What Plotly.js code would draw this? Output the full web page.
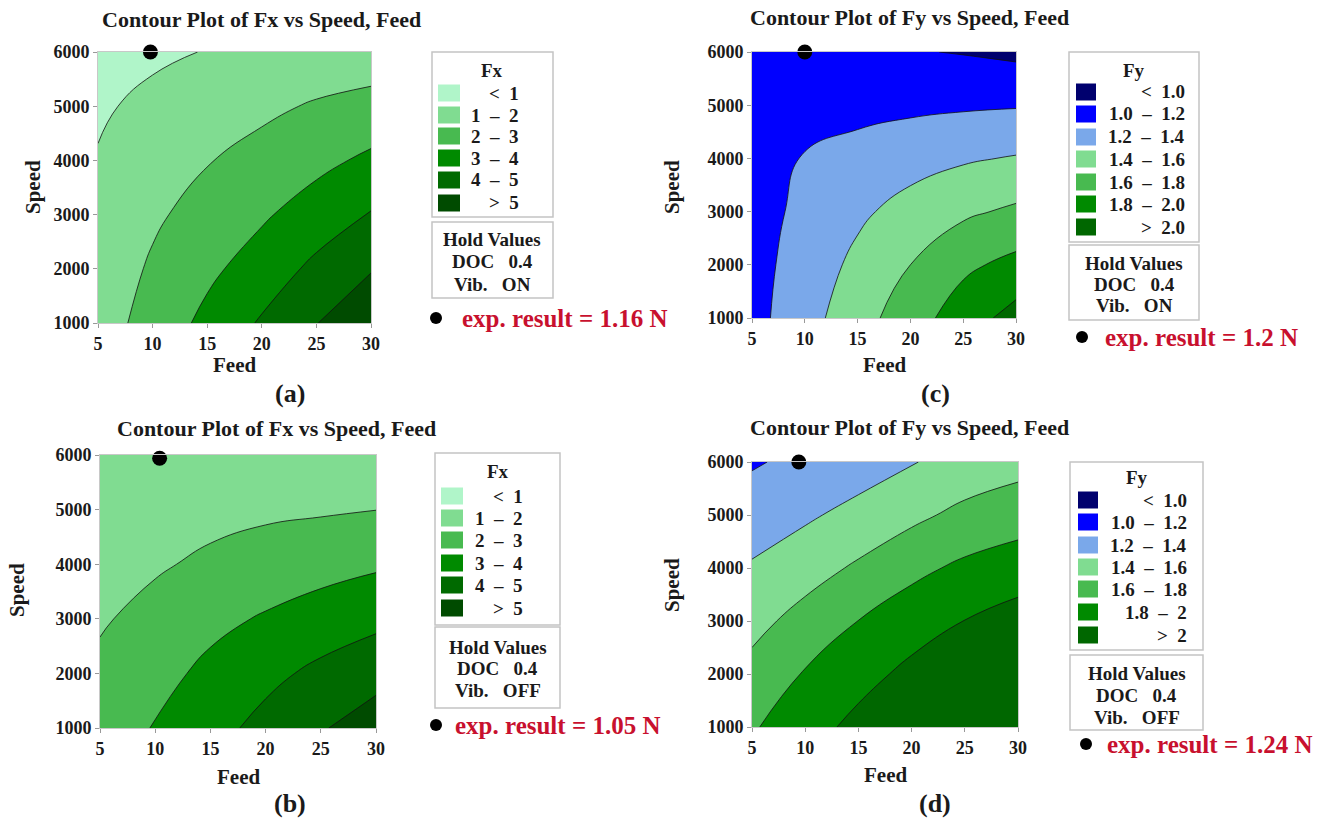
<!DOCTYPE html>
<html><head><meta charset="utf-8">
<script src="https://cdn.plot.ly/plotly-3.0.1.min.js"></script>
<style>html,body{margin:0;padding:0;background:#fff}#chart{width:1322px;height:822px}</style>
</head><body><div id="chart"></div>
<script>
// ---------------- data ----------------
const feed = [5, 10, 15, 20, 25, 30];
const speed = [1000, 2000, 3000, 4000, 5000, 6000];

// (a) Fx, vibration ON  (rows = speed, cols = feed)
const fxOn = [
  [1.53, 2.39, 3.25, 4.11, 4.97, 5.84],
  [1.37, 2.13, 2.79, 3.45, 4.23, 4.93],
  [1.21, 1.84, 2.375, 2.87, 3.46, 4.06],
  [1.05, 1.51, 1.95, 2.34, 2.74, 3.19],
  [0.89, 1.19, 1.49, 1.79, 2.10, 2.32],
  [0.73, 0.86, 1.03, 1.20, 1.33, 1.45]
];
// (c) Fy, vibration ON
const fyOn = [
  [1.133, 1.325, 1.518, 1.71, 1.90, 2.076],
  [1.13, 1.285, 1.447, 1.60, 1.76, 1.855],
  [1.125, 1.245, 1.363, 1.472, 1.565, 1.634],
  [1.115, 1.21, 1.258, 1.324, 1.377, 1.414],
  [1.105, 1.14, 1.151, 1.161, 1.175, 1.186],
  [1.095, 1.07, 1.04, 1.012, 0.99, 0.957]
];
// (b) Fx, vibration OFF
const fxOff = [
  [2.44, 3.06, 3.67, 4.29, 4.91, 5.53],
  [2.18, 2.676, 3.238, 3.747, 4.226, 4.645],
  [1.91, 2.27, 2.739, 3.097, 3.445, 3.757],
  [1.68, 1.90, 2.157, 2.41, 2.64, 2.862],
  [1.45, 1.60, 1.747, 1.84, 1.90, 1.99],
  [1.25, 1.30, 1.40, 1.45, 1.40, 1.30]
];
// (d) Fy, vibration OFF
const fyOff = [
  [1.78, 1.917, 2.056, 2.19, 2.33, 2.45],
  [1.66, 1.815, 1.93, 2.05, 2.165, 2.268],
  [1.54, 1.669, 1.802, 1.908, 2.003, 2.083],
  [1.42, 1.52, 1.628, 1.75, 1.839, 1.898],
  [1.30, 1.37, 1.462, 1.554, 1.652, 1.713],
  [1.18, 1.25, 1.30, 1.39, 1.468, 1.531]
];

const fxLabels = ['<\u20021', '1\u2002\u2013\u20022', '2\u2002\u2013\u20023', '3\u2002\u2013\u20024', '4\u2002\u2013\u20025', '>\u20025'];
const fyLabelsOn = ['<\u20021.0', '1.0\u2002\u2013\u20021.2', '1.2\u2002\u2013\u20021.4', '1.4\u2002\u2013\u20021.6', '1.6\u2002\u2013\u20021.8', '1.8\u2002\u2013\u20022.0', '>\u20022.0'];
const fyLabelsOff = ['<\u20021.0', '1.0\u2002\u2013\u20021.2', '1.2\u2002\u2013\u20021.4', '1.4\u2002\u2013\u20021.6', '1.6\u2002\u2013\u20021.8', '1.8\u2002\u2013\u20022', '>\u20022'];

const expFeed = [9.8, 10, 10.4, 9.4];
const expSpeed = [6000, 6000, 5940, 6000];
const expText = ['exp. result = 1.16 N', 'exp. result = 1.2 N', 'exp. result = 1.05 N', 'exp. result = 1.24 N'];
const holdDoc = ['0.4', '0.4', '0.4', '0.4'];
const holdVib = ['ON', 'ON', 'OFF', 'OFF'];

const feedTicks = [5, 10, 15, 20, 25, 30];
const speedTicks = [1000, 2000, 3000, 4000, 5000, 6000];

// ---------------- styling ----------------
const fxColors = ['#B0F5C9', '#80DC91', '#48BA50', '#008A00', '#006A00', '#004B00'];
const fyColors = ['#00006E', '#0000FF', '#7AA8EA', '#80DC91', '#48BA50', '#008A00', '#006700'];

// band k colour sits exactly at stop k/(n-1) of the scale
function bandScale(colors) {
  const n = colors.length;
  return colors.map((c, i) => [i / (n - 1), c]);
}
const fxScale = bandScale(fxColors);
const fyScale = bandScale(fyColors);

const W = 1322, H = 822;
const X = p => p / W;
const Y = p => 1 - p / H;
const SERIF = 'Liberation Serif, Times New Roman, serif';

const panels = [
  {ax: '', x: [98, 371], y: [52, 323], z: fxOn, lv: {start: 1, end: 5, size: 1}, cs: fxScale},
  {ax: '2', x: [752, 1016], y: [52, 318], z: fyOn, lv: {start: 1.0, end: 2.0, size: 0.2}, cs: fyScale},
  {ax: '3', x: [100, 376], y: [455, 728], z: fxOff, lv: {start: 1, end: 5, size: 1}, cs: fxScale},
  {ax: '4', x: [752, 1018], y: [462, 727], z: fyOff, lv: {start: 1.0, end: 2.0, size: 0.2}, cs: fyScale}
];

const traces = [];
const layout = {
  width: W, height: H,
  margin: {l: 0, r: 0, t: 0, b: 0},
  paper_bgcolor: '#fff', plot_bgcolor: '#fff',
  showlegend: false,
  annotations: [], shapes: []
};

function axisCommon(extra) {
  return Object.assign({
    ticks: 'outside', ticklen: 4, tickwidth: 1, tickcolor: '#999',
    tickfont: {family: SERIF, size: 18, color: '#1a1a1a', weight: 'bold'},
    showline: true, linecolor: '#c8c8c8', linewidth: 1, mirror: true,
    showgrid: false, zeroline: false, fixedrange: true
  }, extra);
}

panels.forEach((p, i) => {
  const xa = 'x' + p.ax, ya = 'y' + p.ax;
  traces.push({
    type: 'contour', x: feed, y: speed, z: p.z, xaxis: xa, yaxis: ya,
    contours: Object.assign({coloring: 'fill'}, p.lv),
    colorscale: p.cs, showscale: false,
    line: {color: '#111', width: 0.8, smoothing: 1.3},
    hoverinfo: 'skip'
  });
  traces.push({
    type: 'scatter', mode: 'markers', x: [expFeed[i]], y: [expSpeed[i]],
    xaxis: xa, yaxis: ya, cliponaxis: false,
    marker: {size: 15, color: '#000'}, hoverinfo: 'skip'
  });
  layout['xaxis' + p.ax] = axisCommon({
    domain: [X(p.x[0]), X(p.x[1])], range: [5, 30], tickvals: feedTicks, anchor: ya
  });
  layout['yaxis' + p.ax] = axisCommon({
    domain: [Y(p.y[1]), Y(p.y[0])], range: [1000, 6000], tickvals: speedTicks, anchor: xa
  });
});

function txt(x, y, text, size, o) {
  o = o || {};
  layout.annotations.push({
    xref: 'paper', yref: 'paper', x: X(x), y: Y(y), text: text, showarrow: false,
    xanchor: o.xa || 'center', yanchor: 'middle', textangle: o.angle || 0,
    font: {family: SERIF, size: size, color: o.color || '#1a1a1a', weight: 'bold'}
  });
}
function rect(x0, x1, y0, y1, fill, line) {
  layout.shapes.push({
    type: 'rect', xref: 'paper', yref: 'paper', x0: X(x0), x1: X(x1), y0: Y(y1), y1: Y(y0),
    fillcolor: fill || 'rgba(0,0,0,0)',
    line: line ? {color: line, width: 1.5} : {width: 0}
  });
}
function dot(cx, cy, r) {
  layout.shapes.push({
    type: 'circle', xref: 'paper', yref: 'paper',
    x0: X(cx - r), x1: X(cx + r), y0: Y(cy + r), y1: Y(cy - r),
    fillcolor: '#000', line: {width: 0}
  });
}

// titles, axis titles, panel letters
const titles = [
  ['Contour Plot of Fx vs Speed, Feed', 261, 19, 235, 365, 33, 187, '(a)', 290, 393],
  ['Contour Plot of Fy vs Speed, Feed', 910, 18, 884, 365, 672, 187, '(c)', 935, 393],
  ['Contour Plot of Fx vs Speed, Feed', 276, 428, 238, 777, 17, 590, '(b)', 290, 803],
  ['Contour Plot of Fy vs Speed, Feed', 910, 427, 885, 775, 672, 585, '(d)', 935, 803]
];
titles.forEach(t => {
  txt(t[1], t[2], t[0], 22);
  txt(t[3], t[4], 'Feed', 21);
  txt(t[5], t[6], 'Speed', 21, {angle: -90});
  txt(t[8], t[9], t[7], 26);
});

// legends
const legends = [
  {box: [432, 553, 52, 217], title: 'Fx', ty: 70, sw: [438, 460], rows: [93, 115, 136, 158, 180, 203],
   lr: 521, labels: fxLabels, colors: fxColors, hold: [222, 298], hy: [240, 262, 284],
   dot: [436, 318], tx: 460},
  {box: [1069, 1199, 52, 242], title: 'Fy', ty: 70, sw: [1076, 1096], rows: [92, 114, 137, 159, 182, 204, 227],
   lr: 1187, labels: fyLabelsOn, colors: fyColors, hold: [245, 320], hy: [263, 284, 305],
   dot: [1082, 337], tx: 1103},
  {box: [435, 560, 453, 625], title: 'Fx', ty: 472, sw: [441, 463], rows: [496, 518, 540, 563, 585, 608],
   lr: 525, labels: fxLabels, colors: fxColors, hold: [627, 708], hy: [647, 668, 690],
   dot: [436, 725], tx: 453},
  {box: [1070, 1203, 462, 650], title: 'Fy', ty: 477, sw: [1078, 1098], rows: [500, 522, 545, 567, 589, 612, 635],
   lr: 1189, labels: fyLabelsOff, colors: fyColors, hold: [655, 730], hy: [673, 695, 717],
   dot: [1086, 744], tx: 1105}
];
legends.forEach((g, i) => {
  rect(g.box[0], g.box[1], g.box[2], g.box[3], null, '#c4c4c4');
  const cx = (g.box[0] + g.box[1]) / 2;
  txt(cx, g.ty, g.title, 19);
  g.rows.forEach((ry, k) => {
    rect(g.sw[0], g.sw[1], ry - 8.5, ry + 8.5, g.colors[k], null);
    txt(g.lr, ry, g.labels[k], 19, {xa: 'right'});
  });
  rect(g.box[0], g.box[1], g.hold[0], g.hold[1], null, '#c4c4c4');
  txt(cx, g.hy[0], 'Hold Values', 19);
  txt(cx, g.hy[1], 'DOC\u00a0\u00a0\u00a0' + holdDoc[i], 19);
  txt(cx, g.hy[2], 'Vib.\u00a0\u00a0\u00a0' + holdVib[i], 19);
  dot(g.dot[0], g.dot[1], 6);
  txt(g.tx, g.dot[1], expText[i], 25, {xa: 'left', color: '#C8102E'});
});

Plotly.newPlot('chart', traces, layout, {staticPlot: true, displayModeBar: false});
</script>
</body></html>
